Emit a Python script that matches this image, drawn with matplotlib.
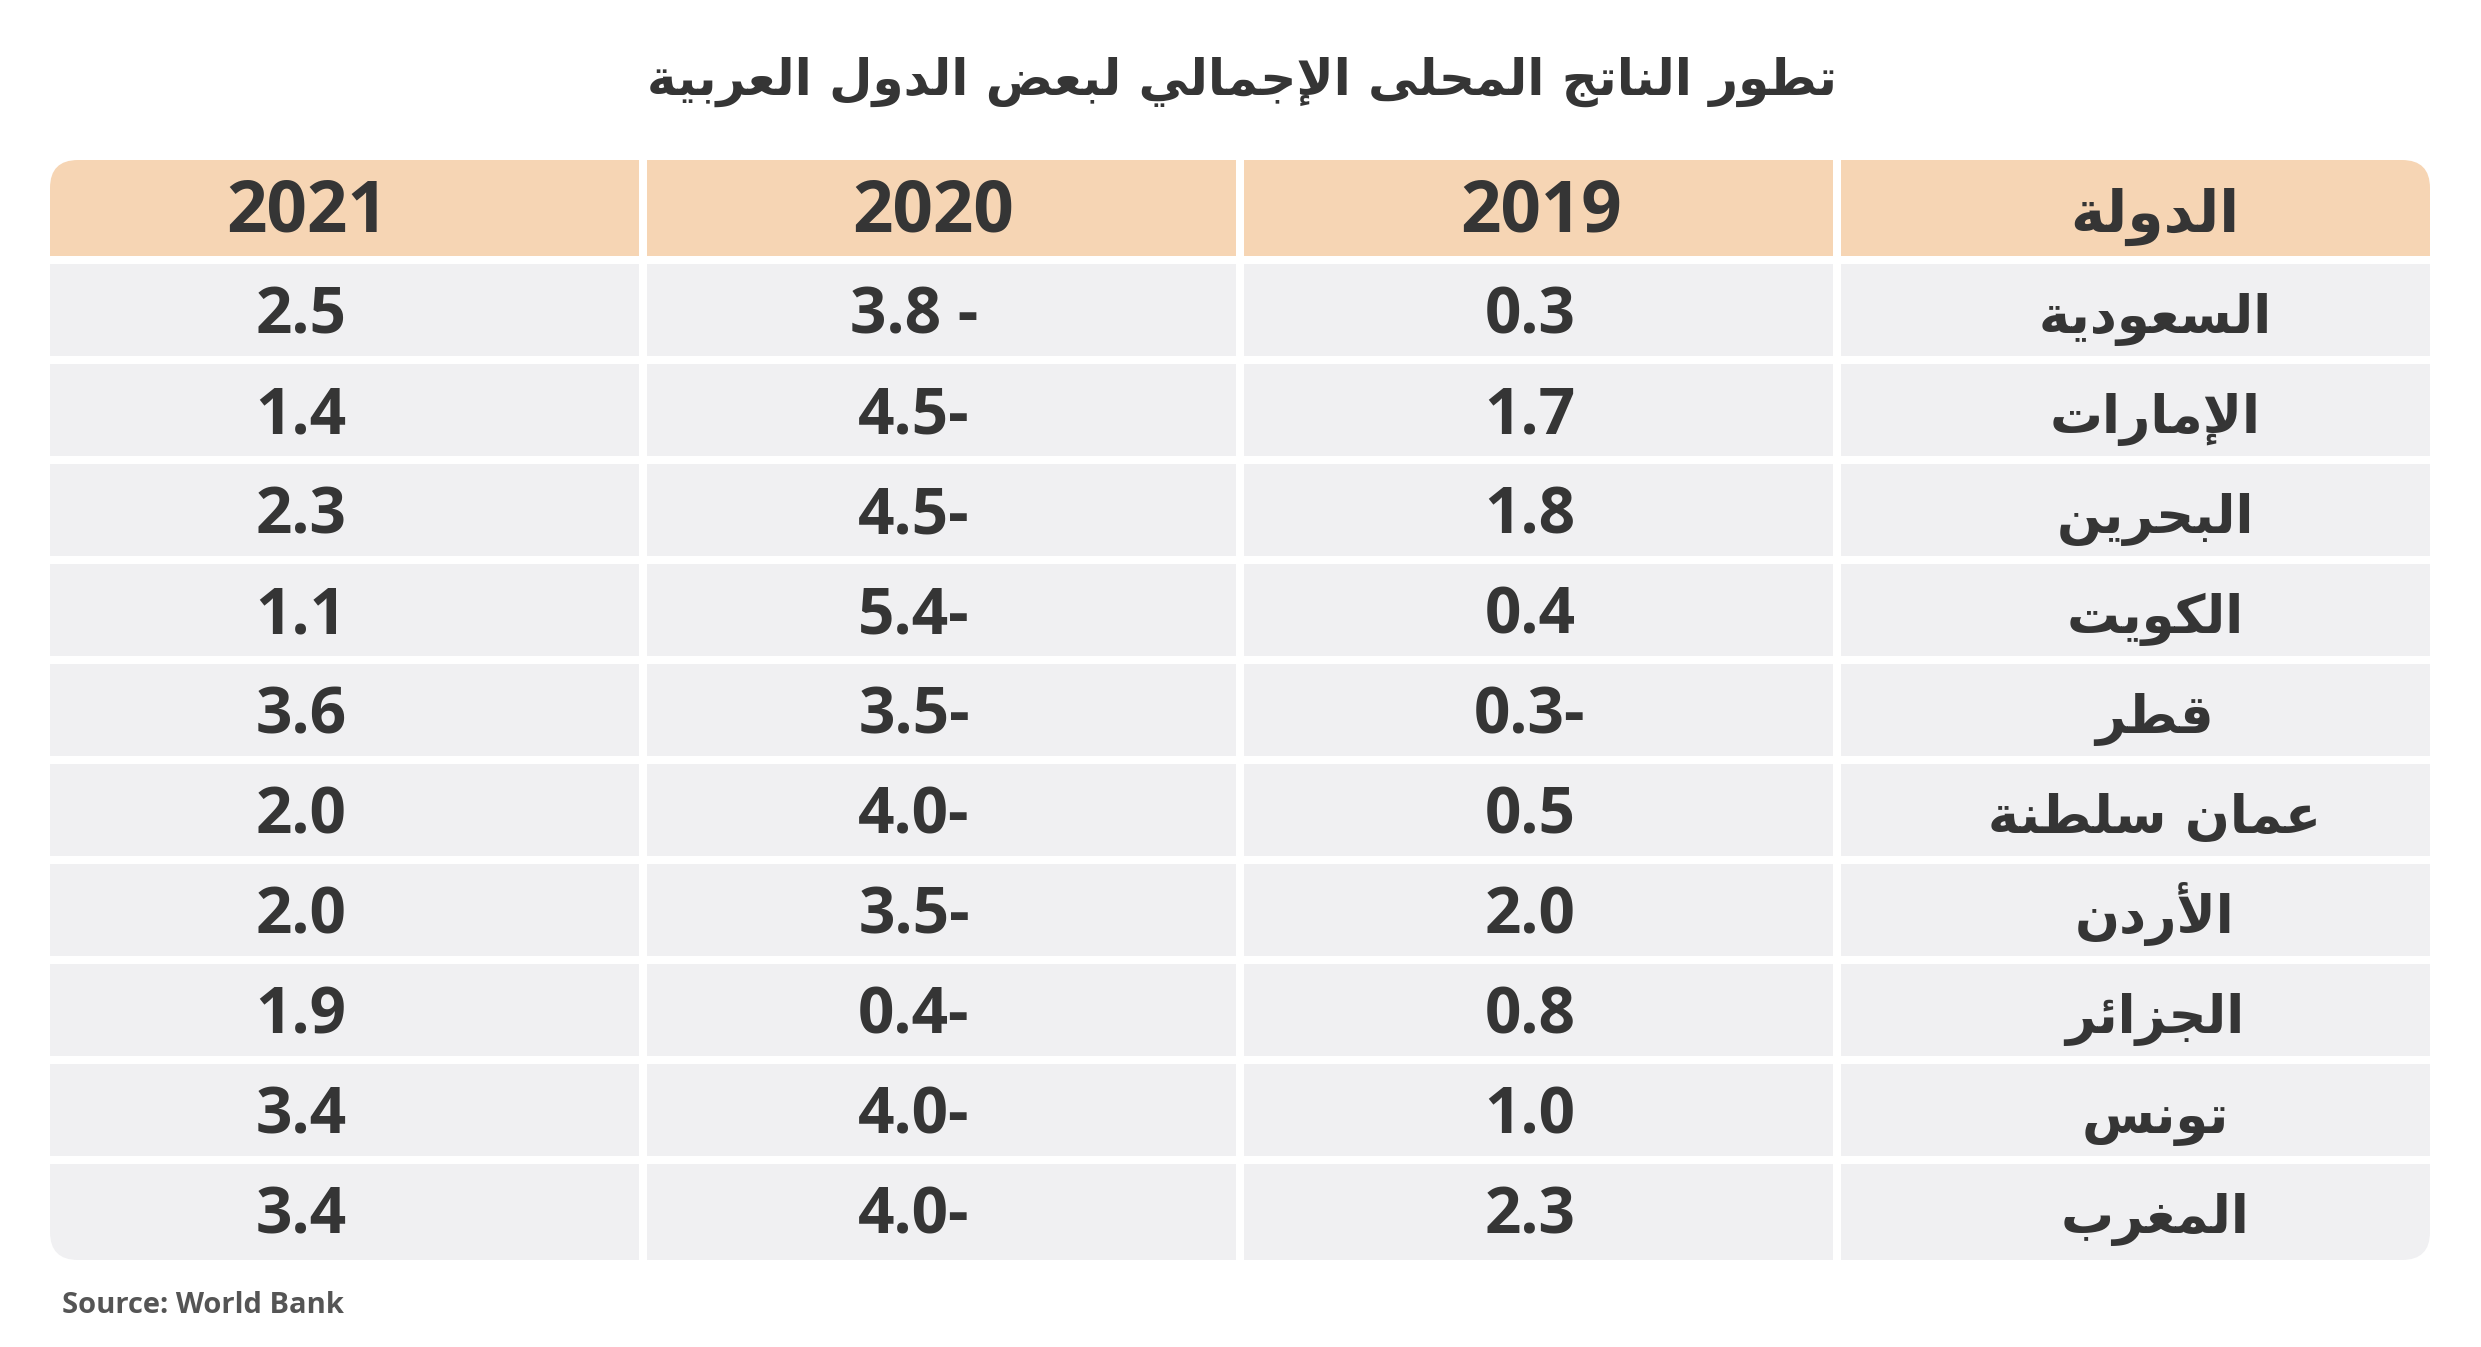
import matplotlib
matplotlib.use("Agg")
import matplotlib.pyplot as plt
from matplotlib.patches import Rectangle, FancyBboxPatch

# ---- data ----
title = "تطور الناتج المحلى الإجمالي لبعض الدول العربية"
header_country = "الدولة"
years = ["2019", "2020", "2021"]
countries = ["السعودية", "الإمارات", "البحرين", "الكويت", "قطر",
             "عمان سلطنة", "الأردن", "الجزائر", "تونس", "المغرب"]
gdp_2019 = [0.3, 1.7, 1.8, 0.4, -0.3, 0.5, 2.0, 0.8, 1.0, 2.3]
gdp_2020 = [-3.8, -4.5, -4.5, -5.4, -3.5, -4.0, -3.5, -0.4, -4.0, -4.0]
gdp_2021 = [2.5, 1.4, 2.3, 1.1, 3.6, 2.0, 2.0, 1.9, 3.4, 3.4]
source = "Source: World Bank"

# ---- minimal arabic shaping (matplotlib has no bidi / joining) ----
AR_FORMS = {}
for ch, base, n in [
        ('ء', 0xFE80, 1), ('آ', 0xFE81, 2), ('أ', 0xFE83, 2), ('ؤ', 0xFE85, 2),
        ('إ', 0xFE87, 2), ('ئ', 0xFE89, 4), ('ا', 0xFE8D, 2), ('ب', 0xFE8F, 4),
        ('ة', 0xFE93, 2), ('ت', 0xFE95, 4), ('ث', 0xFE99, 4), ('ج', 0xFE9D, 4),
        ('ح', 0xFEA1, 4), ('خ', 0xFEA5, 4), ('د', 0xFEA9, 2), ('ذ', 0xFEAB, 2),
        ('ر', 0xFEAD, 2), ('ز', 0xFEAF, 2), ('س', 0xFEB1, 4), ('ش', 0xFEB5, 4),
        ('ص', 0xFEB9, 4), ('ض', 0xFEBD, 4), ('ط', 0xFEC1, 4), ('ظ', 0xFEC5, 4),
        ('ع', 0xFEC9, 4), ('غ', 0xFECD, 4), ('ف', 0xFED1, 4), ('ق', 0xFED5, 4),
        ('ك', 0xFED9, 4), ('ل', 0xFEDD, 4), ('م', 0xFEE1, 4), ('ن', 0xFEE5, 4),
        ('ه', 0xFEE9, 4), ('و', 0xFEED, 2), ('ى', 0xFEEF, 2), ('ي', 0xFEF1, 4)]:
    AR_FORMS[ch] = [chr(base + i) for i in range(n)]
LAM_ALEF = {'آ': 0xFEF5, 'أ': 0xFEF7, 'إ': 0xFEF9, 'ا': 0xFEFB}


def shape(text):
    toks = []
    i = 0
    while i < len(text):
        c = text[i]
        if c == 'ل' and i + 1 < len(text) and text[i + 1] in LAM_ALEF:
            b = LAM_ALEF[text[i + 1]]
            toks.append([chr(b), chr(b + 1)])
            i += 2
        else:
            toks.append(AR_FORMS.get(c, c))
            i += 1
    out = []
    for k, t in enumerate(toks):
        if isinstance(t, str):
            out.append(t)
            continue
        prev = toks[k - 1] if k > 0 else None
        nxt = toks[k + 1] if k + 1 < len(toks) else None
        jp = isinstance(prev, list) and len(prev) == 4 and len(t) >= 2
        jn = isinstance(nxt, list) and len(t) == 4 and len(nxt) >= 2
        f = 3 if (jp and jn) else 2 if jn else 1 if jp else 0
        out.append(t[f])
    return "".join(reversed(out))


def fmt(v):
    # negative numbers are shown with the minus sign trailing (rtl layout)
    return f"{abs(v):.1f}-" if v < 0 else f"{v:.1f}"


labels_2019 = [fmt(v) for v in gdp_2019]
labels_2020 = [fmt(v) for v in gdp_2020]
labels_2020[0] = labels_2020[0].replace("-", " -")  # as in the source table
labels_2021 = [fmt(v) for v in gdp_2021]

# ---- layout (pixels) ----
W, H = 2481, 1347
fig = plt.figure(figsize=(W / 100, H / 100), dpi=100)
ax = fig.add_axes([0, 0, 1, 1])
ax.set_xlim(0, W)
ax.set_ylim(H, 0)
ax.axis("off")

TXT = "#353535"
HEAD_BG = "#F6D5B4"
CELL_BG = "#F0F0F2"
AR_FONT = ["DejaVu Sans"]
NUM_FONT = ["Open Sans", "DejaVu Sans"]

x0, x1 = 50, 2430
gap = 8
col_w = (x1 - x0 - 3 * gap) / 4
head_top, head_h = 160, 96
row_top, row_h, row_pitch = 264, 92, 100
n = len(countries)
table_bottom = row_top + (n - 1) * row_pitch + 96

clip = FancyBboxPatch((x0, head_top), x1 - x0, table_bottom - head_top,
                      boxstyle="round,pad=0,rounding_size=28",
                      facecolor="none", edgecolor="none")
ax.add_patch(clip)

# columns left to right: 2021, 2020, 2019, country
col_labels = [labels_2021, labels_2020, labels_2019]
col_heads = years[::-1]
text_x = [301, 914, 1530, 2155]
head_x = [307, 933, 1541, 2155]

for c in range(4):
    cx = x0 + c * (col_w + gap)
    r = Rectangle((cx, head_top), col_w, head_h, facecolor=HEAD_BG, edgecolor="none")
    ax.add_patch(r)
    r.set_clip_path(clip)
    for i in range(n):
        top = row_top + i * row_pitch
        h = row_h if i < n - 1 else table_bottom - top
        r = Rectangle((cx, top), col_w, h, facecolor=CELL_BG, edgecolor="none")
        ax.add_patch(r)
        r.set_clip_path(clip)

# header
head_base = head_top + head_h / 2 + 24
for c in range(3):
    ax.text(head_x[c], head_base, col_heads[c], ha="center", va="baseline",
            fontsize=51, fontweight="bold", family=NUM_FONT, color=TXT)
ax.text(head_x[3], head_base, shape(header_country), ha="center", va="baseline",
        fontsize=42, fontweight="bold", family=AR_FONT, color=TXT)

# body
for i in range(n):
    base = row_top + i * row_pitch + row_h / 2 + 23
    for c in range(3):
        ax.text(text_x[c], base, col_labels[c][i], ha="center", va="baseline",
                fontsize=46, fontweight="bold", family=NUM_FONT, color=TXT)
    ax.text(text_x[3], base, shape(countries[i]), ha="center", va="baseline",
            fontsize=38, fontweight="bold", family=AR_FONT, color=TXT)

ax.text(1242, 95, shape(title), ha="center", va="baseline",
        fontsize=36, fontweight="bold", family=AR_FONT, color=TXT)
ax.text(62, 1313, source, ha="left", va="baseline",
        fontsize=21, fontweight="bold", family=NUM_FONT, color="#555555")

fig.savefig("out.png", dpi=100, facecolor="white")
